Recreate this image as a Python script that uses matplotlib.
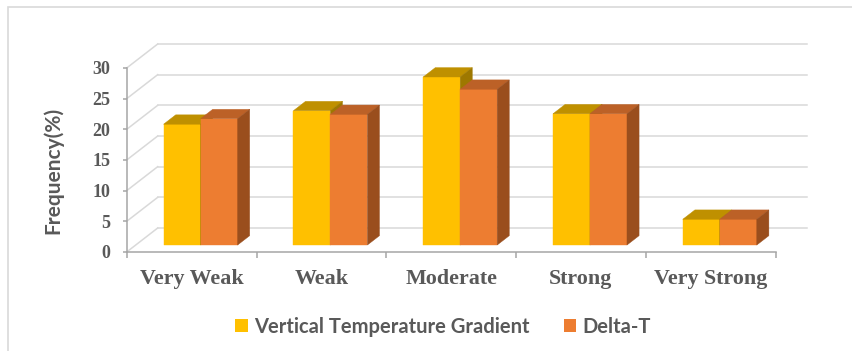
import matplotlib
matplotlib.use("Agg")
import matplotlib.pyplot as plt
from matplotlib.patches import Polygon, Rectangle, Patch
from matplotlib.transforms import Affine2D, IdentityTransform
from matplotlib.lines import Line2D

# ---- data ----
categories = ["Very Weak", "Weak", "Moderate", "Strong", "Very Strong"]
vtg_values = [19.7, 21.9, 27.4, 21.4, 4.2]      # Vertical Temperature Gradient
deltat_values = [20.6, 21.3, 25.4, 21.4, 4.2]   # Delta-T
series_names = ["Vertical Temperature Gradient", "Delta-T"]
yticks = [0, 5, 10, 15, 20, 25, 30]

# ---- styling ----
W, H, DPI = 853, 351, 100
DEPTH_DX, DEPTH_DY = 31, 24          # oblique offset of the back wall (px)
BAR_D0, BAR_D1 = 0.29, 0.68          # bar depth range (fraction of wall depth)
BAR_W = 0.285                        # bar width in category units
GRID = "#D9D9D9"
AXIS = "#A6A6A6"
TXT = "#595959"
faces = [
    dict(front="#FFC000", top="#BF9000", side="#9E7800"),
    dict(front="#ED7D31", top="#BC6127", side="#9A4E1D"),
]

fig = plt.figure(figsize=(W / DPI, H / DPI), dpi=DPI)
fig.patch.set_facecolor("white")

# outer chart border
fig.add_artist(Rectangle((8 / W, -0.1), 1.2, 1.1 - 7 / H, transform=fig.transFigure,
                         fill=False, edgecolor=GRID, lw=1.2))

# front plane of the chart
ax = fig.add_axes([126.7 / W, (H - 252) / H, 649 / W, 184 / H])
ax.set_xlim(-0.5, len(categories) - 0.5)
ax.set_ylim(0, 30)
ax.patch.set_visible(False)
PIX = IdentityTransform()


def depth(d):
    """Transform for a plane lying d (0..1) deep behind the front plane."""
    return ax.transData + Affine2D().translate(d * DEPTH_DX, d * DEPTH_DY)


x0, x1 = -0.5, len(categories) - 0.5
# back wall gridlines and left wall diagonals
for v in yticks:
    ax.add_line(Line2D([x0, x1], [v, v], transform=depth(1), color=GRID, lw=1.1,
                       zorder=1, clip_on=False))
    fx, fy = ax.transData.transform((x0, v))
    bx, by = depth(1).transform((x0, v))
    ax.add_line(Line2D([fx, bx], [fy, by], transform=PIX, color=GRID, lw=1.1,
                       zorder=1, clip_on=False))


def add_face(pts, color):
    ax.add_patch(Polygon(pts, closed=True, transform=PIX, facecolor=color,
                         edgecolor=color, lw=0.3, clip_on=False, zorder=3))


def box(xl, xr, v, tf_front, tf_back, f):
    fl0, fr0, fr1, fl1 = tf_front.transform([(xl, 0), (xr, 0), (xr, v), (xl, v)])
    br0, br1, bl1 = tf_back.transform([(xr, 0), (xr, v), (xl, v)])
    add_face([fl0, fr0, fr1, fl1], f["front"])
    add_face([fl1, fr1, br1, bl1], f["top"])
    add_face([fr0, br0, br1, fr1], f["side"])


tf_f, tf_b = depth(BAR_D0), depth(BAR_D1)
for i in range(len(categories)):
    for s, vals in enumerate([vtg_values, deltat_values]):
        xl = i - BAR_W + s * BAR_W
        box(xl, xl + BAR_W, vals[i], tf_f, tf_b, faces[s])

# axes lines, ticks, labels
for sp in ["top", "right"]:
    ax.spines[sp].set_visible(False)
for sp in ["left", "bottom"]:
    ax.spines[sp].set_color(AXIS)
    ax.spines[sp].set_linewidth(1.1)
    ax.spines[sp].set_zorder(2)

ax.set_yticks(yticks)
ax.set_yticklabels([str(t) for t in yticks])
ax.tick_params(axis="y", direction="out", length=2.9, width=1.1, color=AXIS, pad=9,
               labelsize=13, labelcolor=TXT)
for lab in ax.get_yticklabels():
    lab.set_fontfamily("Liberation Serif")
    lab.set_fontweight("bold")

ax.set_xticks([k - 0.5 for k in range(len(categories) + 1)])
ax.set_xticklabels([])
ax.set_xticks(range(len(categories)), minor=True)
ax.set_xticklabels(categories, minor=True)
ax.tick_params(axis="x", which="major", direction="out", length=4.3, width=1.1, color=AXIS)
ax.tick_params(axis="x", which="minor", length=0, pad=12.5, labelsize=15.8, labelcolor=TXT)
for lab in ax.get_xticklabels(minor=True):
    lab.set_fontfamily("Liberation Serif")
    lab.set_fontweight("bold")

fig.text(53 / W, 1 - 170 / H, "Frequency(%)", rotation=90, ha="center", va="center",
         fontsize=15, fontweight="bold", color=TXT, family="Lato")

handles = [Patch(facecolor=faces[0]["front"], edgecolor="none"),
           Patch(facecolor=faces[1]["front"], edgecolor="none")]
fig.legend(handles, series_names, loc="center", bbox_to_anchor=(443 / W, 1 - 326.7 / H),
           ncol=2, frameon=False, handlelength=0.62, handleheight=0.62,
           handletextpad=0.3, columnspacing=1.7,
           prop=dict(family="Lato", size=14.5, weight="bold"), labelcolor=TXT)

fig.savefig("out.png", dpi=DPI, facecolor="white")
